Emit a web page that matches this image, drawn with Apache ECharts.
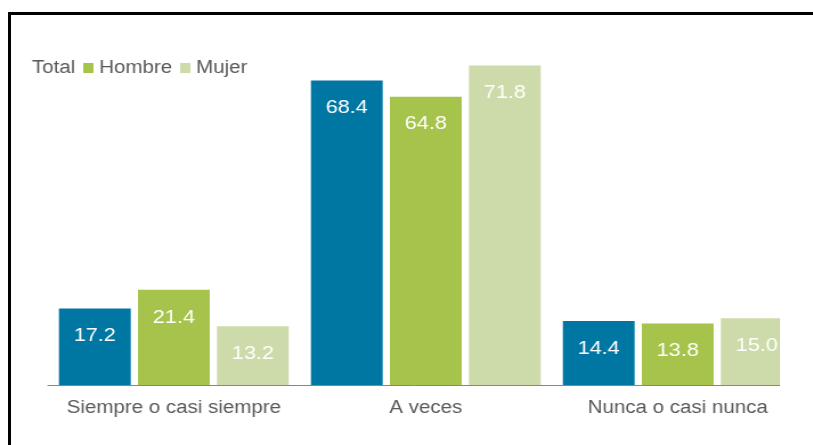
<!DOCTYPE html>
<html>
<head>
<meta charset="utf-8">
<script src="https://cdn.jsdelivr.net/npm/echarts@6/dist/echarts.min.js"></script>
<style>
    body { margin: 0; width: 813px; height: 445px; overflow: hidden; background: #fff; position: relative; }
    /* el grafico original esta estirado en horizontal */
    #chart { position: absolute; left: 0; top: 0; width: 684px; height: 445px; transform: scaleX(1.14); transform-origin: 0 0; }
    #frame { position: absolute; left: 8px; top: 12px; width: 805px; height: 433px; border-left: 3px solid #000; border-top: 3px solid #000; box-sizing: border-box; pointer-events: none; }
</style>
</head>
<body>
<div id="chart"></div>
<div id="frame"></div>
<script>
// categorias
var categorias = ['Siempre o casi siempre', 'A veces', 'Nunca o casi nunca'];
// porcentajes
var total = [17.2, 68.4, 14.4];
var hombre = [21.4, 64.8, 13.8];
var mujer = [13.2, 71.8, 15.0];

var colores = ['#0077a3', '#a6c34b', '#cddbab'];

var chart = echarts.init(document.getElementById('chart'));

function serie(nombre, datos, color) {
    return {
        name: nombre,
        type: 'bar',
        data: datos,
        barWidth: 63,
        barGap: '10%',
        itemStyle: { color: color },
        label: {
            show: true,
            position: 'insideTop',
            distance: 18,
            color: '#fff',
            fontFamily: 'Liberation Sans',
            fontSize: 19,
            formatter: function (p) { return p.value.toFixed(1); }
        }
    };
}

var option = {
    animation: false,
    color: colores,
    legend: {
        left: 9,
        top: 54,
        itemWidth: 9,
        itemHeight: 10,
        itemGap: 7,
        icon: 'rect',
        textStyle: { color: '#595959', fontFamily: 'Liberation Sans', fontSize: 18 },
        data: [
            { name: 'Total', icon: 'none' },
            { name: 'Hombre' },
            { name: 'Mujer' }
        ]
    },
    grid: {
        left: 42,
        top: 29,
        width: 663,
        height: 356,
        outerBoundsMode: 'none'
    },
    xAxis: {
        type: 'category',
        data: categorias,
        axisLine: { lineStyle: { color: '#868686', width: 1 } },
        axisTick: { show: false },
        axisLabel: {
            interval: 0,
            color: '#595959',
            fontFamily: 'Liberation Sans',
            fontSize: 18,
            margin: 14
        }
    },
    yAxis: {
        type: 'value',
        min: 0,
        max: 80,
        show: false
    },
    series: [
        serie('Total', total, colores[0]),
        serie('Hombre', hombre, colores[1]),
        serie('Mujer', mujer, colores[2])
    ]
};

chart.setOption(option);
</script>
</body>
</html>
